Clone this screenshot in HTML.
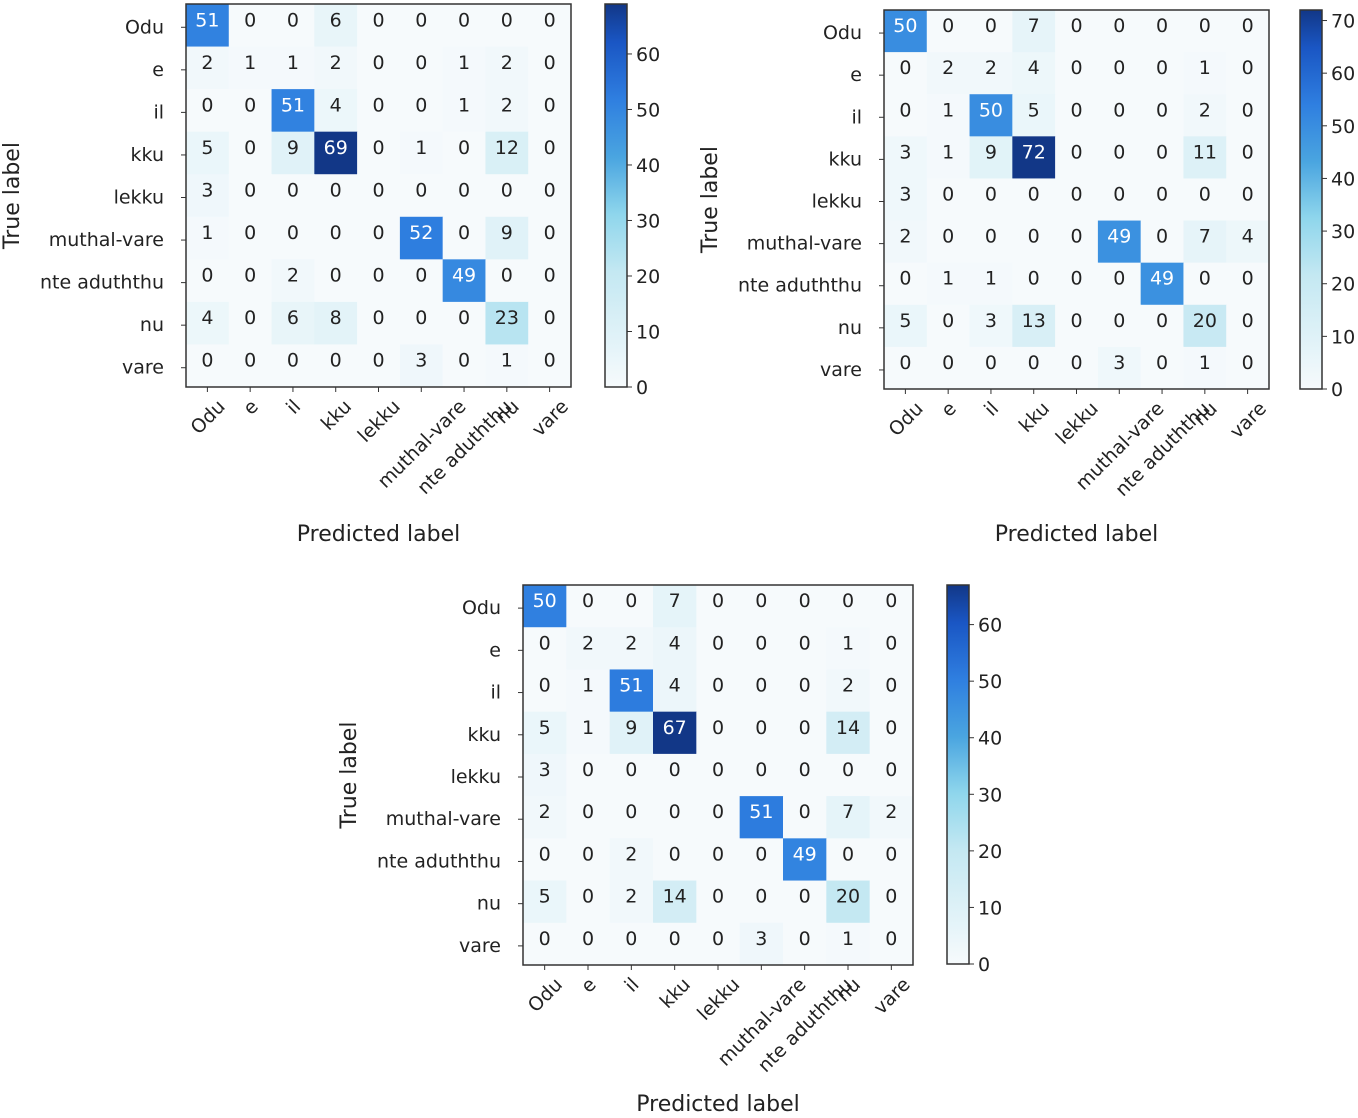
<!DOCTYPE html>
<html><head><meta charset="utf-8"><style>
html,body{margin:0;padding:0;background:#fff;}
svg text{font-family:"DejaVu Sans","Liberation Sans",sans-serif;fill:#222;}
</style></head><body>
<svg id="c" width="1358" height="1113" viewBox="0 0 1358 1113" xmlns="http://www.w3.org/2000/svg"></svg>
<script>
const labels = ["Odu","e","il","kku","lekku","muthal-vare","nte aduththu","nu","vare"];
const matrixA = [
[51,0,0,6,0,0,0,0,0],[2,1,1,2,0,0,1,2,0],[0,0,51,4,0,0,1,2,0],[5,0,9,69,0,1,0,12,0],
[3,0,0,0,0,0,0,0,0],[1,0,0,0,0,52,0,9,0],[0,0,2,0,0,0,49,0,0],[4,0,6,8,0,0,0,23,0],[0,0,0,0,0,3,0,1,0]];
const matrixB = [
[50,0,0,7,0,0,0,0,0],[0,2,2,4,0,0,0,1,0],[0,1,50,5,0,0,0,2,0],[3,1,9,72,0,0,0,11,0],
[3,0,0,0,0,0,0,0,0],[2,0,0,0,0,49,0,7,4],[0,1,1,0,0,0,49,0,0],[5,0,3,13,0,0,0,20,0],[0,0,0,0,0,3,0,1,0]];
const matrixC = [
[50,0,0,7,0,0,0,0,0],[0,2,2,4,0,0,0,1,0],[0,1,51,4,0,0,0,2,0],[5,1,9,67,0,0,0,14,0],
[3,0,0,0,0,0,0,0,0],[2,0,0,0,0,51,0,7,2],[0,0,2,0,0,0,49,0,0],[5,0,2,14,0,0,0,20,0],[0,0,0,0,0,3,0,1,0]];
const ticksA = [0,10,20,30,40,50,60];
const ticksB = [0,10,20,30,40,50,60,70];
const ticksC = [0,10,20,30,40,50,60];

const NS="http://www.w3.org/2000/svg";
const svg=document.getElementById('c');
const stops=[[0,[246,250,252]],[0.3,[196,232,242]],[0.45,[143,214,236]],[0.6,[74,165,224]],[0.75,[47,127,224]],[0.9,[26,86,196]],[1,[18,55,135]]];
function cmap(t){t=Math.max(0,Math.min(1,t));for(let i=1;i<stops.length;i++){if(t<=stops[i][0]){const a=stops[i-1],b=stops[i],f=(t-a[0])/(b[0]-a[0]);return 'rgb('+a[1].map((v,k)=>Math.round(v+(b[1][k]-v)*f)).join(',')+')';}}return 'rgb(18,55,135)';}
function el(tag,attrs,parent){const e=document.createElementNS(NS,tag);for(const k in attrs)e.setAttribute(k,attrs[k]);(parent||svg).appendChild(e);return e;}

function drawMatrix(id,m,ticks,x0,y0,x1,y1,cbx,cby0,cby1,xtOff){
  const g=el('g',{});
  
  
  const n=labels.length, cw=(x1-x0)/n, ch=(y1-y0)/n;
  let max=0; m.forEach(r=>r.forEach(v=>{if(v>max)max=v;}));
  const xs=c=>x0+c*cw, ys=r=>y0+r*ch;
  for(let r=0;r<n;r++)for(let c=0;c<n;c++){
    const v=m[r][c];
    const rc=el('rect',{x:xs(c),y:ys(r),width:cw+0.5,height:ch+0.5,fill:cmap(v/max)},g);
    
    
    const t=el('text',{x:xs(c)+cw/2,y:ys(r)+ch/2+1,'text-anchor':'middle','font-size':19},g);
    
    
    if(v>max/2)t.setAttribute('style','fill:#fff');
    t.textContent=v;
  }
  el('rect',{x:x0,y:y0,width:x1-x0,height:y1-y0,fill:'none',stroke:'#333','stroke-width':1.5},g);
  for(let i=0;i<n;i++){
    const yy=ys(i)+ch/2+2;
    el('line',{x1:x0-5,x2:x0,y1:yy,y2:yy,stroke:'#333'},g);
    const yl=el('text',{x:x0-22,y:yy+6,'text-anchor':'end','font-size':19},g);
    
    
    yl.textContent=labels[i];
    const xx=xs(i)+cw/2;
    el('line',{x1:xx,x2:xx,y1:y1,y2:y1+5,stroke:'#333'},g);
    const xl=el('text',{x:0,y:0,'text-anchor':'middle','font-size':19},g);
    
    
    xl.textContent=labels[i];
    const L=xl.getComputedTextLength(), h=19;
    const cy=y1+9+(L+h)*0.7071/2;
    xl.setAttribute('transform','translate('+xx+' '+cy+') rotate(-45) translate(0 7)');
  }
  const yt=el('text',{x:0,y:0,'text-anchor':'middle','font-size':22,transform:'translate('+(x0-167)+' '+((y0+y1)/2)+') rotate(-90)'},g);
  
  
  yt.textContent='True label';
  const xt=el('text',{x:(x0+x1)/2,y:y1+xtOff,'text-anchor':'middle','font-size':22},g);
  
  
  xt.textContent='Predicted label';
  const cbw=22, gid='grad'+id;
  const defs=el('defs',{},g);
  const lg=el('linearGradient',{id:gid,x1:0,y1:1,x2:0,y2:0},defs);
  for(let i=0;i<=20;i++)el('stop',{offset:i/20,'stop-color':cmap(i/20)},lg);
  const cb=el('rect',{x:cbx,y:cby0,width:cbw,height:cby1-cby0,fill:'url(#'+gid+')',stroke:'#333','stroke-width':1.5},g);
  
  
  const cyf=v=>cby1-(v/max)*(cby1-cby0);
  ticks.forEach(v=>{
    el('line',{x1:cbx+cbw,x2:cbx+cbw+5,y1:cyf(v),y2:cyf(v),stroke:'#333'},g);
    const tt=el('text',{x:cbx+cbw+9,y:cyf(v)+7,'font-size':19},g);
    
    
    tt.textContent=v;
  });
}
drawMatrix('matrix-top-left',matrixA,ticksA,186,4,571,387,605,4,387,154);
drawMatrix('matrix-top-right',matrixB,ticksB,884,10,1269,389,1300,10,389,152);
drawMatrix('matrix-bottom',matrixC,ticksC,523,585,913,965,947,585,964,146);
</script>
</body></html>
